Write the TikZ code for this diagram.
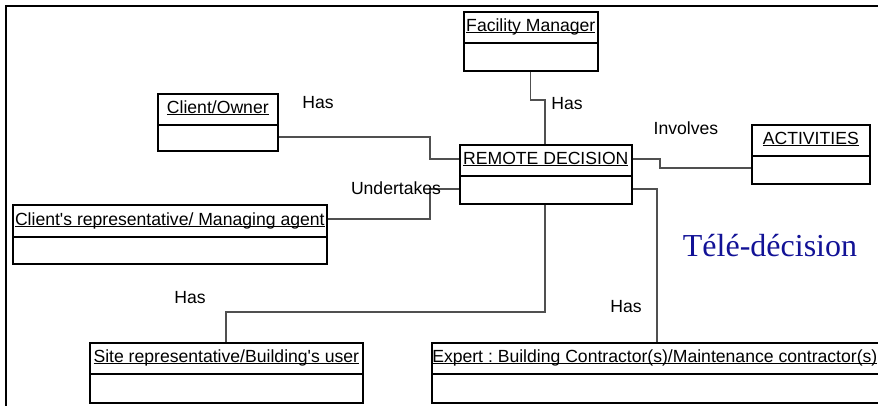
\documentclass[tikz,border=0pt]{standalone}
\usepackage{fontspec}
\setmainfont{Liberation Sans}[Ligatures=TeXOff]
\newfontfamily\headserif{Liberation Serif}
\usetikzlibrary{calc}
\frenchspacing
\definecolor{linkgray}{RGB}{80,80,80}
\definecolor{headblue}{RGB}{18,18,150}
% underlined title text with a fixed rule offset below the baseline
\newcommand\ulbox[1]{\setbox0=\hbox{#1}\rlap{\rule[-2.3pt]{\wd0}{0.9pt}}\box0}
% \umlclass[title x-shift]{name}{left}{top}{width}{height}{title height}{title}
\newcommand\umlclass[8][0pt]{%
  \node[classbox, minimum width=#5pt, minimum height=#6pt] (#2) at (#3,#4) {};
  \draw[boxline] ($(#2.north west)+(0,-#7pt)$) -- ($(#2.north east)+(0,-#7pt)$);
  \node[classtitle] (#2-title) at ($(#2.north)+(#1,-#7pt+12pt)$) {\ulbox{#8}};
}
\begin{document}
\begin{tikzpicture}[x=1pt,y=-1pt,
  classbox/.style={draw=black, line width=1.6pt, rectangle, inner sep=0pt, anchor=north west},
  boxline/.style={draw=black, line width=1.6pt},
  classtitle/.style={anchor=base, inner sep=0pt, font=\fontsize{17.6}{20}\selectfont},
  lbl/.style={inner sep=0pt, font=\fontsize{17.6}{20}\selectfont},
  conn/.style={draw=linkgray, line width=1.1pt},
  frame/.style={draw=black, line width=2pt}]
\useasboundingbox (0,0) rectangle (878,405);

% outer frame (top and left edges)
\draw[frame] (880,6) -- (6,6) -- (6,407);

% classes
\umlclass{fm}{463}{11}{134}{59}{32}{Facility Manager}
\umlclass{co}{157}{93}{120}{57}{32}{Client/Owner}
\umlclass{rd}{459}{144}{172}{59}{32}{REMOTE DECISION}
\umlclass{act}{751}{124}{118}{59}{32}{ACTIVITIES}
\umlclass{cr}{12}{204}{314}{59}{33}{Client's representative/ Managing agent}
\umlclass{sr}{89}{342}{273}{60}{32}{Site representative/Building's user}
\umlclass[-2pt]{ex}{431}{342}{450}{60}{32}{Expert : Building Contractor(s)/Maintenance contractor(s)}

% associations
\draw[conn] (fm.south) |- (545,100) -- (rd.north -| 545,0);
\draw[conn] (co.east |- 0,137) -| (430,159) -- (rd.west |- 0,159);
\draw[conn] (cr.east |- 0,219) -| (430,189) -- (rd.west |- 0,189);
\draw[conn] (rd.east |- 0,159) -| (660,168) -- (act.west |- 0,168);
\draw[conn] (rd.east |- 0,189) -| (ex.north -| 657,0);
\draw[conn] (rd.south -| 545,0) |- (226,312) -- (sr.north -| 226,0);

% association labels
\node[lbl] (l-fm) at (567,104) {Has};
\node[lbl] (l-co) at (318,103) {Has};
\node[lbl] (l-cr) at (396,188) {Undertakes};
\node[lbl] (l-act) at (686,128) {Involves};
\node[lbl] (l-ex) at (626,307) {Has};
\node[lbl] (l-sr) at (190,298) {Has};

% heading
\node[anchor=base, inner sep=0pt, text=headblue, font=\headserif\fontsize{32}{36}\selectfont] (heading) at (770,256) {Télé-décision};
\end{tikzpicture}
\end{document}
